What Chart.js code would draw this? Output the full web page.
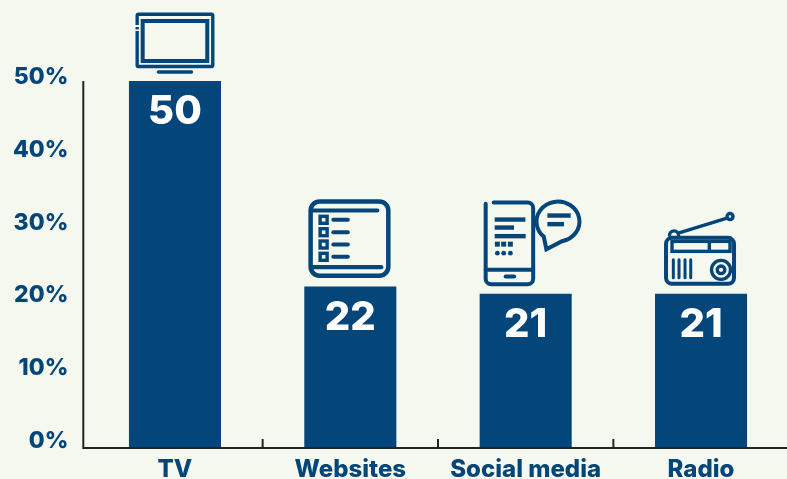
<!DOCTYPE html>
<html lang="en">
<head>
<meta charset="UTF-8">
<title>Media share</title>
<script src="https://cdn.jsdelivr.net/npm/chart.js"></script>
<style>
  html, body { margin: 0; padding: 0; width: 787px; height: 479px; overflow: hidden; background: #f4f8ee; }
</style>
</head>
<body>
<canvas id="chart" width="790" height="479" style="display:block"></canvas>
<script>
const categories = ['TV', 'Websites', 'Social media', 'Radio'];
const shares = [50, 22, 21, 21];
const yTicks = [0, 10, 20, 30, 40, 50];

const NAVY = '#04457a';
const BACKGROUND = '#f4f8ee';
const FONT = 'Inter, "Noto Sans", sans-serif';

function line(ctx, x1, y1, x2, y2) {
  ctx.beginPath();
  ctx.moveTo(x1, y1);
  ctx.lineTo(x2, y2);
  ctx.stroke();
}

function round(ctx, x, y, w, h, r) {
  ctx.beginPath();
  ctx.roundRect(x, y, w, h, r);
  ctx.stroke();
}

// icons are decoration, each drawn relative to the top centre of its bar
const icons = [
  function tv(ctx) {
    ctx.lineWidth = 3.4;
    round(ctx, -37.8, -66.8, 75.6, 52.3, 1.5);
    // small gap in the left edge of the frame
    ctx.fillStyle = BACKGROUND;
    ctx.fillRect(-40, -56, 5, 6);
    ctx.fillStyle = NAVY;
    ctx.fillRect(-39.5, -54, 3.4, 2.4);
    ctx.lineWidth = 4;
    ctx.strokeRect(-32.3, -60, 64.6, 40);
    ctx.lineWidth = 3.4;
    line(ctx, -16.5, -9, 16.5, -9);
  },
  function websites(ctx) {
    ctx.lineWidth = 4.5;
    round(ctx, -39.7, -85, 77.7, 74.3, 9);
    ctx.lineWidth = 4.2;
    line(ctx, -38, -76, 27, -76);
    line(ctx, -38, -19.3, 31, -19.3);
    [-66.7, -54.3, -42, -29.7].forEach(y => {
      ctx.lineWidth = 3.4;
      ctx.strokeRect(-30.2, y - 3.5, 7, 7);
      ctx.lineWidth = 4;
      line(ctx, -17, y, -2.5, y);
    });
  },
  function social(ctx) {
    ctx.lineWidth = 4;
    ctx.beginPath();
    ctx.moveTo(-40, -90);
    ctx.lineTo(-40, -15);
    ctx.arcTo(-40, -9.7, -34, -9.7, 5.5);
    ctx.arcTo(7.5, -9.7, 7.5, -15, 5.5);
    ctx.arcTo(7.5, -91.3, 2, -91.3, 5.5);
    ctx.lineTo(-32, -91.3);
    ctx.stroke();
    line(ctx, -40, -24, 7.5, -24);
    line(ctx, -20, -17.3, -11.5, -17.3);
    ctx.lineCap = 'butt';
    ctx.lineWidth = 4.4;
    line(ctx, -31, -74.3, -0.3, -74.3);
    line(ctx, -31, -66.3, -11.7, -66.3);
    line(ctx, -31, -57.7, 0, -57.7);
    line(ctx, 21.7, -78.3, 45, -78.3);
    line(ctx, 21.7, -69.7, 38.3, -69.7);
    [-28.3, -22, -15.3].forEach(x => {
      ctx.fillRect(x - 2.5, -52.2, 5, 5);
      ctx.beginPath();
      ctx.arc(x, -40.7, 2.4, 0, Math.PI * 2);
      ctx.fill();
    });
    ctx.lineCap = 'round';
    ctx.lineWidth = 4;
    ctx.beginPath();
    ctx.ellipse(32.3, -72.3, 21.5, 20, 0, 1.0 * Math.PI * 0.44, Math.PI * 0.73, true);
    ctx.lineTo(20.7, -44.7);
    ctx.closePath();
    ctx.stroke();
  },
  function radio(ctx) {
    ctx.lineWidth = 4;
    round(ctx, -35, -56, 68, 46, 6);
    ctx.lineWidth = 3.4;
    ctx.strokeRect(-29, -52.5, 58, 10);
    line(ctx, 8.3, -52.5, 8.3, -42.5);
    ctx.lineWidth = 3;
    [-27.7, -22, -16, -10.3].forEach(x => line(ctx, x, -34, x, -16));
    ctx.lineWidth = 3.4;
    ctx.beginPath();
    ctx.arc(20, -24, 9.5, 0, Math.PI * 2);
    ctx.stroke();
    ctx.beginPath();
    ctx.arc(20, -24, 3.8, 0, Math.PI * 2);
    ctx.stroke();
    line(ctx, -22.7, -60.7, 26, -75.7);
    ctx.beginPath();
    ctx.arc(29, -77.3, 3, 0, Math.PI * 2);
    ctx.stroke();
    ctx.beginPath();
    ctx.arc(-27, -58.5, 4.5, Math.PI, 0);
    ctx.stroke();
  }
];

const decorations = {
  id: 'decorations',
  afterDatasetsDraw(chart) {
    const ctx = chart.ctx;
    const x = chart.scales.x;
    const y = chart.scales.y;
    const base = y.getPixelForValue(0);
    const top = y.getPixelForValue(yTicks[yTicks.length - 1]);
    const axisX = x.left - 4;

    ctx.save();
    // axes
    ctx.strokeStyle = '#23241f';
    ctx.lineWidth = 2;
    line(ctx, axisX, top, axisX, base + 1);
    line(ctx, axisX, base, 787, base);
    for (let i = 1; i < categories.length; i++) {
      const tickX = (x.getPixelForTick(i - 1) + x.getPixelForTick(i)) / 2;
      line(ctx, tickX, base, tickX, base - 9);
    }

    // value labels and icons
    ctx.font = '800 40px ' + FONT;
    ctx.textAlign = 'center';
    ctx.textBaseline = 'middle';
    chart.getDatasetMeta(0).data.forEach((bar, i) => {
      ctx.fillStyle = '#ffffff';
      ctx.fillText(String(shares[i]), bar.x, bar.y + 31);
      ctx.save();
      ctx.translate(bar.x, bar.y);
      ctx.strokeStyle = NAVY;
      ctx.fillStyle = NAVY;
      ctx.lineCap = 'round';
      icons[i](ctx);
      ctx.restore();
    });
    ctx.restore();
  }
};

new Chart(document.getElementById('chart'), {
  type: 'bar',
  data: {
    labels: categories,
    datasets: [{
      data: shares,
      backgroundColor: NAVY,
      barPercentage: 0.525,
      categoryPercentage: 1
    }]
  },
  options: {
    responsive: false,
    animation: false,
    layout: { padding: { top: 7.6, right: 1.3, left: 0, bottom: 0 } },
    plugins: { legend: { display: false }, tooltip: { enabled: false } },
    scales: {
      x: {
        grid: { display: false },
        border: { display: false },
        ticks: {
          color: NAVY,
          padding: -1,
          maxRotation: 0,
          autoSkip: false,
          font: { family: FONT, size: 24, weight: '800' }
        },
        afterFit(scale) {
          scale.height = 31;
          scale.paddingLeft = 0;
          scale.paddingRight = 0;
        }
      },
      // bars
      y: { display: false, min: 0, max: 60 },
      // tick labels sit a little above the value they name, so they get their own scale
      yLabels: {
        position: 'left',
        min: -0.96,
        max: 59.53,
        grid: { display: false },
        border: { display: false },
        afterBuildTicks(scale) { scale.ticks = yTicks.map(v => ({ value: v })); },
        afterFit(scale) {
          scale.width = 87.3;
          scale.paddingTop = 0;
          scale.paddingBottom = 0;
        },
        ticks: {
          color: NAVY,
          padding: 11,
          callback: v => v + '%',
          font: { family: FONT, size: 23, weight: '800' }
        }
      }
    }
  },
  plugins: [decorations]
});
</script>
</body>
</html>
